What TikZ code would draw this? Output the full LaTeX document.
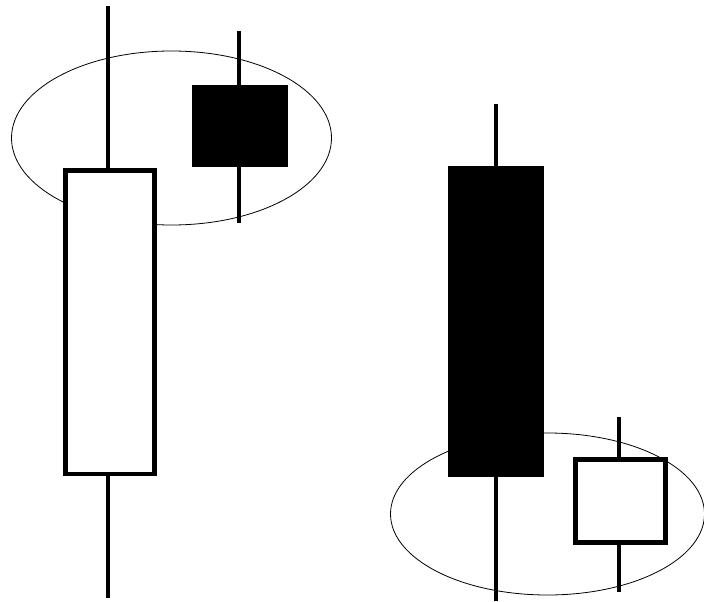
\documentclass[tikz,border=0pt]{standalone}

\begin{document}
\begin{tikzpicture}[x=1pt, y=-1pt,
    wick/.style={line width=4.5pt},
    hollow/.style={draw, fill=white, line width=4.5pt},
    solid/.style={fill=black}]
    \useasboundingbox (0,0) rectangle (704,602);

    % the two rings
    \draw[line width=0.8pt] (171.5,138) ellipse (160pt and 87pt);
    \draw[line width=0.8pt] (547.5,514) ellipse (157pt and 81pt);

    % left pair
    \draw[wick] (108,6)--(108,598);
    \filldraw[hollow] (65.5,170.5) rectangle (154.5,474);

    \draw[wick] (239,31)--(239,223);
    \fill[solid] (192,85) rectangle (288,167);

    % right pair
    \draw[wick] (496,104)--(496,601);
    \fill[solid] (448,166) rectangle (544,477);

    \draw[wick] (619,417)--(619,592);
    \filldraw[hollow] (575.5,459.5) rectangle (665.5,542.5);

\end{tikzpicture}
\end{document}
